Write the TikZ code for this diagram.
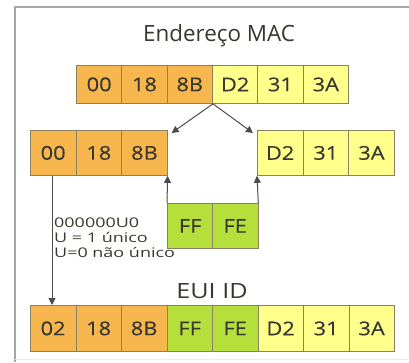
\documentclass[tikz,border=0pt]{standalone}
\usepackage{fontspec}
\setmainfont{Open Sans}
\newfontfamily\cellfont[FakeStretch=1.15,FakeBold=0.3]{Open Sans}
\newfontfamily\notefont[FakeStretch=1.35]{Open Sans}
\newfontfamily\euifont[FakeStretch=1.2]{Open Sans}
\usetikzlibrary{arrows.meta}
\definecolor{org}{HTML}{F8B74E}
\definecolor{yel}{HTML}{FFFF8C}
\definecolor{grn}{HTML}{B5E03C}
\definecolor{cellline}{HTML}{8C8060}
\definecolor{txt}{HTML}{383830}
\tikzset{
  cell/.style={draw=cellline, line width=0.8pt, minimum width=45.5pt, minimum height=38pt, inner sep=0pt, anchor=north west, text=txt, font=\cellfont\fontsize{19}{19}\selectfont},
  tallcell/.style={cell, minimum height=45pt},
  fo/.style={fill=org}, fy/.style={fill=yel}, fg/.style={fill=grn},
  conn/.style={draw=black!70, line width=1pt, -{Triangle[length=7pt,width=7pt]}},
  title/.style={text=txt, font=\fontsize{22.4}{22.4}\selectfont},
  note/.style={text=txt, font=\notefont\fontsize{13.3}{15}\selectfont, align=left, inner sep=0pt, anchor=north west}
}
\begin{document}
\begin{tikzpicture}[x=1pt,y=-1pt]
\useasboundingbox (0,0) rectangle (409,362);
% frame
\draw[black!35, line width=2pt] (15,362) -- (15,7) -- (409,7);
\draw[black!8, line width=1pt] (15,359) -- (409,359);
% title
\node[title] (t1) at (219,36) {Endereço MAC};
% top row
\foreach \i/\t/\c in {0/00/fo,1/18/fo,2/8B/fo,3/D2/fy,4/31/fy,5/3A/fy}{
  \node[cell,\c] (m\i) at (76+\i*45.33,65) {\t};
}
% middle left
\foreach \i/\t in {0/00,1/18,2/8B}{
  \node[tallcell,fo] (l\i) at (30+\i*45.67,130) {\t};
}
% middle right
\foreach \i/\t in {0/D2,1/31,2/3A}{
  \node[tallcell,fy] (r\i) at (257+\i*45.67,130) {\t};
}
% FF FE
\node[tallcell,fg] (f0) at (167,203) {FF};
\node[tallcell,fg] (f1) at (212,203) {FE};
% bottom row
\foreach \i/\t/\c in {0/02/fo,1/18/fo,2/8B/fo,3/FF/fg,4/FE/fg,5/D2/fy,6/31/fy,7/3A/fy}{
  \node[tallcell,\c,minimum height=46pt] (b\i) at (30+\i*45.5,305) {\t};
}
\node[title, font=\euifont\fontsize{21}{21}\selectfont] (t2) at (212,291) {EUI ID};
% arrows
\coordinate (split) at (m2.south east);
\draw[conn] (split) -- ([xshift=4pt,yshift=-3pt]l2.north east);
\draw[conn] (split) -- ([xshift=-4pt,yshift=-3pt]r0.north west);
\draw[conn] (f0.north west) -- (l2.south east);
\draw[conn] (f1.north east) -- (r0.south west);
\draw[conn] ([xshift=22pt]l0.south west) -- ([xshift=22pt]b0.north west);
% note
\node[note] (n) at (54,218) {000000U0\\U = 1 único\\U=0 não único};
\end{tikzpicture}
\end{document}
